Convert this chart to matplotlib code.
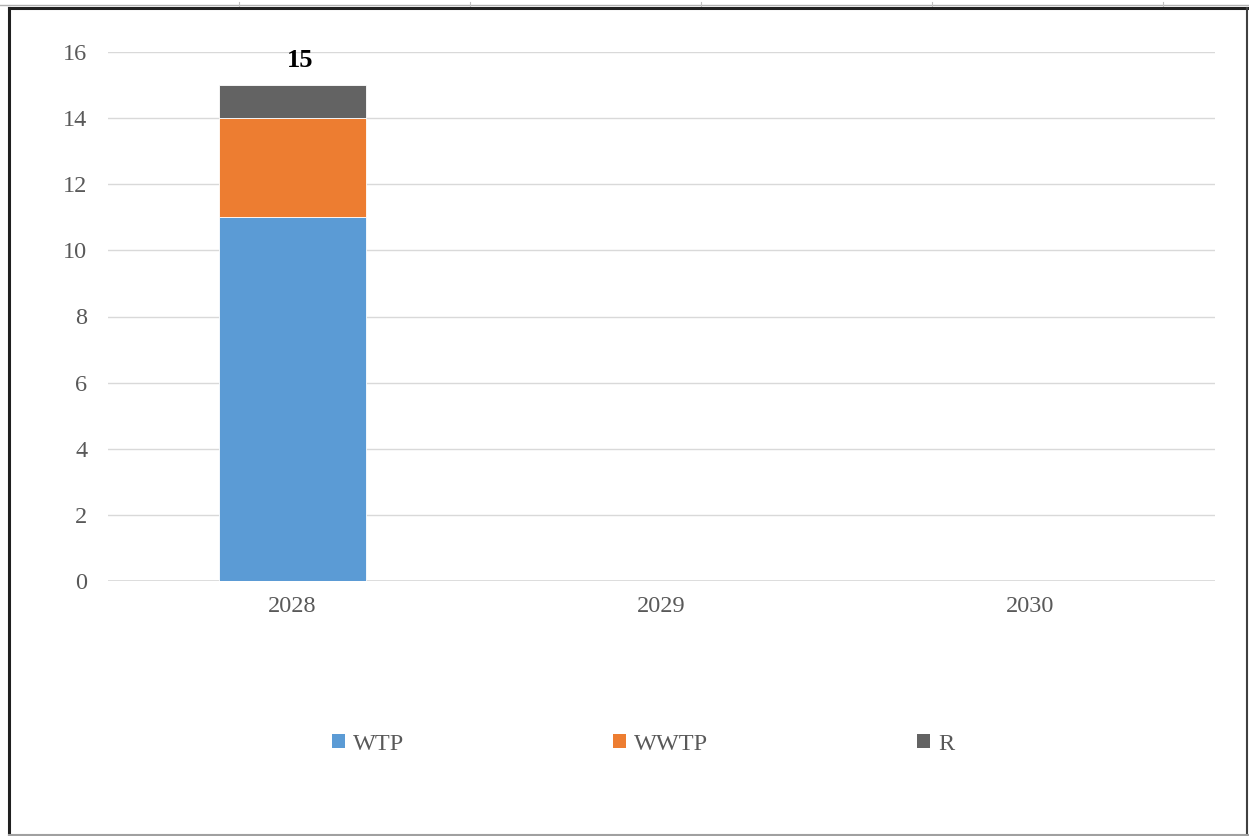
import matplotlib
matplotlib.use("Agg")
import matplotlib.pyplot as plt
from matplotlib.patches import Patch
from matplotlib.lines import Line2D
import numpy as np

years = ["2028", "2029", "2030"]
wtp = [11, 0, 0]
wwtp = [3, 0, 0]
r = [1, 0, 0]
totals = ["15", "", ""]
series_names = ["WTP", "WWTP", "R"]
colors = ["#5B9BD5", "#ED7D31", "#636363"]

plt.rcParams["font.family"] = ["Liberation Serif", "DejaVu Serif"]

W, H = 1249, 836
fig = plt.figure(figsize=(W / 100, H / 100), dpi=100)

# plot area in pixels
x0, x1 = 108, 1215
y_top, y_bot = 52, 581
ax = fig.add_axes([x0 / W, 1 - y_bot / H, (x1 - x0) / W, (y_bot - y_top) / H])

x = np.arange(len(years))
bottom = np.zeros(len(years))
for vals, name, c in zip([wtp, wwtp, r], series_names, colors):
    ax.bar(x, vals, width=0.4, bottom=bottom, color=c, edgecolor="white",
           linewidth=0.6, label=name, zorder=3)
    bottom += np.array(vals)

for xi, tot, lab in zip(x, bottom, totals):
    if lab:
        ax.text(xi + 0.02, tot + 0.4, lab, ha="center", va="bottom",
                fontsize=19, fontweight="bold", color="black")

ax.set_xlim(-0.5, len(years) - 0.5)
ax.set_ylim(0, 16)
ax.set_yticks(np.arange(0, 17, 2))
ax.set_xticks(x)
ax.set_xticklabels(years)
ax.grid(axis="y", color="#d9d9d9", linewidth=1.0, zorder=0)
ax.tick_params(axis="both", length=0, labelsize=17.5, labelcolor="#595959")
ax.tick_params(axis="y", pad=15)
ax.tick_params(axis="x", pad=11)
for s in ax.spines.values():
    s.set_visible(False)
ax.axhline(0, color="#d9d9d9", linewidth=1.2, zorder=1)

handles = [Patch(facecolor=c, edgecolor="none") for c in colors]
fig.legend(handles, series_names, loc="center left", bbox_to_anchor=(332 / W, 1 - 744 / H),
           ncol=3, frameon=False, fontsize=17.5, labelcolor="#595959",
           borderpad=0, borderaxespad=0, handlelength=0.53, handleheight=0.5,
           handletextpad=0.33, columnspacing=8.6)

# document frame around the chart
fl = lambda xs, ys, **kw: fig.add_artist(
    Line2D([v / W for v in xs], [1 - v / H for v in ys], transform=fig.transFigure, **kw))
fl([0, W], [5, 5], color="#b0b0b0", linewidth=1.0)
for tx in [239, 470, 701, 932, 1163]:
    fl([tx, tx], [2, 6], color="#c0c0c0", linewidth=0.8)
fl([8.5, W], [8, 8], color="#202020", linewidth=2.2)
fl([8.5, 8.5], [8, 835], color="#202020", linewidth=2.2)
fl([1247, 1247], [8, 835], color="#404040", linewidth=1.5)
fl([8.5, W], [835, 835], color="#a0a0a0", linewidth=1.5)

fig.savefig("out.png", dpi=100)
